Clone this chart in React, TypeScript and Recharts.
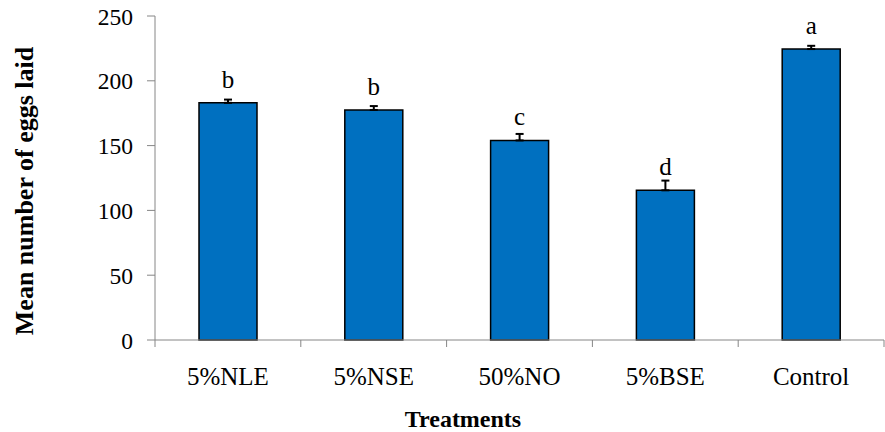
import React from 'react';
import { BarChart, Bar, XAxis, YAxis, ErrorBar, LabelList } from 'recharts';

const categories = ['5%NLE', '5%NSE', '50%NO', '5%BSE', 'Control'];
const means = [183, 177.5, 154, 115.5, 224.5];
const errorsUp = [2.5, 3, 5, 7.5, 2.5];
const letters = ['b', 'b', 'c', 'd', 'a'];
const yTicks = [0, 50, 100, 150, 200, 250];

const data = categories.map((c, i) => ({
  name: c,
  mean: means[i],
  err: [0, errorsUp[i]],
  letter: letters[i],
}));

const FONT = '"Liberation Serif", "Times New Roman", serif';
const AXIS = '#868686';
const CHART_W = 885;
const Y_AXIS_W = 155;
const RIGHT = 1;
const BAND = (CHART_W - Y_AXIS_W - RIGHT) / categories.length;
const X_TICK_SIZE = 7;
const X_TICK_MARGIN = 20;

const LetterLabel = (props: any) => {
  const { x, y, width, index } = props;
  return (
    <text x={x + width / 2} y={y - 15} textAnchor="middle" style={{ fontFamily: FONT }} fontFamily={FONT} fontSize={25} fill="#000">
      {letters[index]}
    </text>
  );
};

const XTick = (props: any) => {
  const { x, y, payload, index } = props;
  const axisY = y - X_TICK_SIZE - X_TICK_MARGIN;
  const isLast = index === categories.length - 1;
  return (
    <g>
      <line x1={x - BAND / 2} x2={x - BAND / 2} y1={axisY} y2={axisY + X_TICK_SIZE} stroke={AXIS} />
      {isLast && <line x1={x + BAND / 2} x2={x + BAND / 2} y1={axisY} y2={axisY + X_TICK_SIZE} stroke={AXIS} />}
      <text x={x} y={y + 18} textAnchor="middle" style={{ fontFamily: FONT }} fontFamily={FONT} fontSize={25} fill="#000">
        {payload.value}
      </text>
    </g>
  );
};

const YTick = (props: any) => {
  const { x, y, payload } = props;
  return (
    <text x={x} y={y + 8.5} textAnchor="end" style={{ fontFamily: FONT }} fontFamily={FONT} fontSize={23.5} fill="#000">
      {payload.value}
    </text>
  );
};

const YLabel = () => (
  <text x={33} y={191} transform="rotate(-90, 33, 191)" textAnchor="middle" style={{ fontFamily: FONT }} fontWeight="bold" fontSize={26} fill="#000">
    Mean number of eggs laid
  </text>
);

const XLabel = () => (
  <text x={463} y={427} textAnchor="middle" style={{ fontFamily: FONT }} fontWeight="bold" fontSize={24} fill="#000">
    Treatments
  </text>
);

export default function App() {
  return (
    <div style={{ width: 885, height: 432 }}>
      <style>{`body{margin:0}`}</style>
      <BarChart width={CHART_W} height={432} data={data} margin={{ top: 16, right: RIGHT, left: 0, bottom: 42 }}>
        <XAxis
          dataKey="name"
          tickLine={false}
          axisLine={{ stroke: AXIS }}
          tickSize={X_TICK_SIZE}
          tickMargin={X_TICK_MARGIN}
          height={50}
          tick={<XTick />}
          interval={0}
          label={<XLabel />}
        />
        <YAxis
          domain={[0, 250]}
          ticks={yTicks}
          width={Y_AXIS_W}
          tickSize={8}
          tickMargin={14}
          axisLine={{ stroke: AXIS }}
          tickLine={{ stroke: AXIS }}
          tick={<YTick />}
          label={<YLabel />}
        />
        <Bar dataKey="mean" fill="#0070C0" stroke="#000" strokeWidth={1.5} barSize={58} isAnimationActive={false}>
          <ErrorBar dataKey="err" width={4} stroke="#000" strokeWidth={2} isAnimationActive={false} />
          <LabelList dataKey="letter" content={LetterLabel} />
        </Bar>
      </BarChart>
    </div>
  );
}
